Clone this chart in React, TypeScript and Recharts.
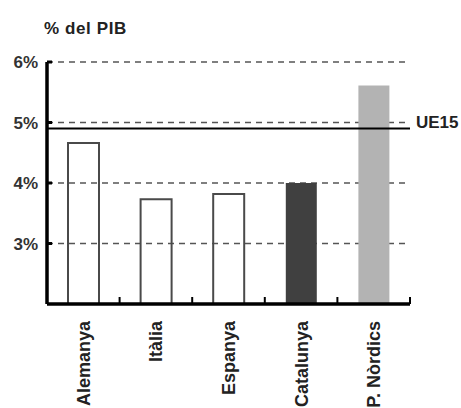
import React from 'react';
import {
  BarChart,
  Bar,
  Cell,
  XAxis,
  YAxis,
  CartesianGrid,
  ReferenceLine,
} from 'recharts';

const categories = ['Alemanya', 'Itàlia', 'Espanya', 'Catalunya', 'P. Nòrdics'];
const values = [4.66, 3.73, 3.82, 4.0, 5.61];
const ue15Value = 4.9;
const yTicks = [3, 4, 5, 6];

const data = categories.map((name, i) => ({ name, value: values[i] }));

const FONT = '"Liberation Sans", Arial, sans-serif';
const TICK_SIZE = 1;
const TICK_MARGIN = 16;
const barFills = ['none', 'none', 'none', '#404040', '#b3b3b3'];
const barStrokes = ['#4a4a4a', '#4a4a4a', '#4a4a4a', 'none', 'none'];

// rotated label, plus the small upward tick at the right edge of each category
const CategoryTick = ({ x, y, payload, width, visibleTicksCount }: any) => {
  const half = width / visibleTicksCount / 2;
  const axisY = y - TICK_SIZE - TICK_MARGIN;
  return (
    <g>
      <line x1={x + half} x2={x + half} y1={axisY} y2={axisY - 7} stroke="#000" strokeWidth={2} />
      <text
        x={x}
        y={y}
        dy="0.36em"
        transform={`rotate(-90 ${x} ${y})`}
        textAnchor="end"
        fontFamily={FONT}
        fontSize={18}
        fontWeight="bold"
        fill="#222"
      >
        {payload.value}
      </text>
    </g>
  );
};

const Ue15Label = ({ viewBox }: any) => (
  <text
    x={viewBox.x + viewBox.width + 6}
    y={viewBox.y - 1}
    fontFamily={FONT}
    fontSize={17}
    fontWeight="bold"
    fill="#222"
  >
    UE15
  </text>
);

export default function App() {
  return (
    <div style={{ position: 'absolute', left: 0, top: 0, width: 461, height: 408, background: '#fff' }}>
      <div
        style={{
          position: 'absolute',
          left: 44,
          top: 20,
          fontFamily: FONT,
          fontSize: 17,
          lineHeight: '17px',
          fontWeight: 'bold',
          letterSpacing: 0.6,
          color: '#222',
        }}
      >
        % del PIB
      </div>
      <BarChart
        width={461}
        height={408}
        data={data}
        margin={{ top: 62, right: 51, bottom: 0, left: 0 }}
        barSize={31}
      >
        <CartesianGrid vertical={false} stroke="#555" strokeWidth={1.3} strokeDasharray="6 5" />
        <XAxis
          dataKey="name"
          height={104}
          axisLine={{ stroke: '#000', strokeWidth: 3.5 }}
          tickLine={false}
          tickSize={TICK_SIZE}
          tickMargin={TICK_MARGIN}
          tick={<CategoryTick />}
          interval={0}
        />
        <YAxis
          width={47}
          domain={[2, 6]}
          ticks={yTicks}
          axisLine={{ stroke: '#000', strokeWidth: 3.5 }}
          tickLine={{ stroke: '#000', strokeWidth: 3 }}
          tickSize={-5}
          tickMargin={14}
          tickFormatter={(v) => `${v}%`}
          tick={{ fontFamily: FONT, fontSize: 17, fontWeight: 'bold', fill: '#333' }}
        />
        <Bar dataKey="value" isAnimationActive={false} strokeWidth={2}>
          {data.map((d, i) => (
            <Cell key={d.name} fill={barFills[i]} stroke={barStrokes[i]} />
          ))}
        </Bar>
        <ReferenceLine y={ue15Value} stroke="#000" strokeWidth={2} label={<Ue15Label />} />
      </BarChart>
    </div>
  );
}
